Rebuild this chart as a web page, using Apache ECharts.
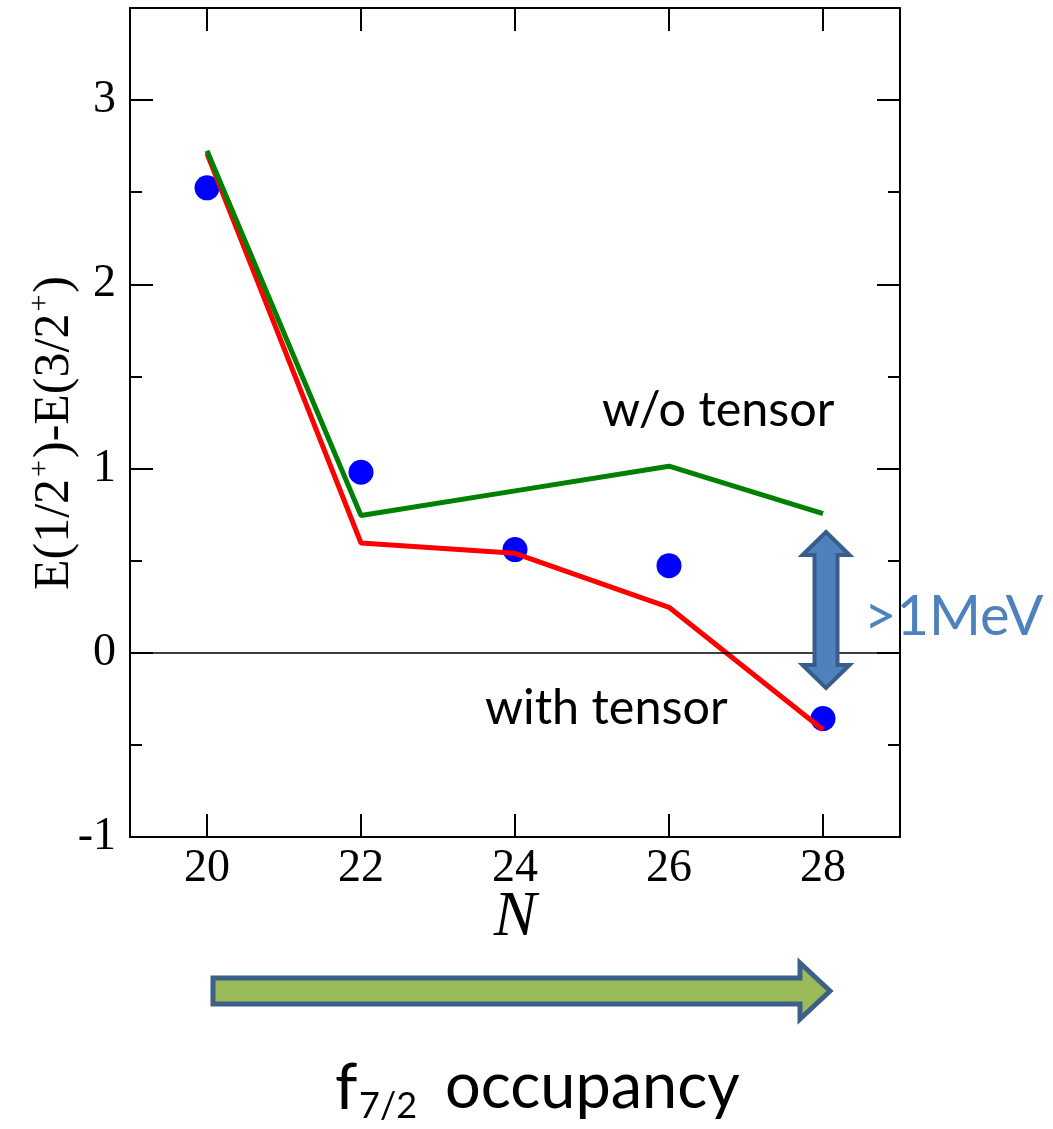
<!DOCTYPE html>
<html><head><meta charset="utf-8">
<script src="https://cdn.jsdelivr.net/npm/echarts@6/dist/echarts.min.js"></script>
<style>html,body{margin:0;padding:0;background:#fff}#c{width:1053px;height:1129px}</style>
</head><body><div id="c"></div>
<script>
const N = [20, 22, 24, 26, 28];
const expData = [2.524, 0.98, 0.56, 0.473, -0.357];
const withTensor = [2.71, 0.596, 0.54, 0.247, -0.418];
const withoutTensor = [2.725, 0.745, 0.879, 1.013, 0.755];
const xTicks = [20, 22, 24, 26, 28];
const yMajor = [-1, 0, 1, 2, 3];
const yMinor = [-0.5, 0.5, 1.5, 2.5];

const serif = 'Liberation Serif';
const chart = echarts.init(document.getElementById('c'), null, {renderer: 'canvas'});

const baseX = {min: 19, max: 29, splitLine: {show: false},
  axisLine: {show: true, onZero: false, lineStyle: {color: '#000', width: 2}}};
const baseY = {min: -1, max: 3.5, splitLine: {show: false},
  axisLine: {show: true, onZero: false, lineStyle: {color: '#000', width: 2}}};

const option = {
  animation: false,
  backgroundColor: '#fff',
  grid: {left: 130, right: 153, top: 8, bottom: 292, containLabel: false},
  xAxis: [
    Object.assign({}, baseX, {type: 'value', position: 'bottom',
      axisTick: {show: true, inside: true, length: 23, customValues: xTicks, lineStyle: {color: '#000', width: 2}},
      axisLabel: {show: true, customValues: xTicks, fontFamily: serif, fontSize: 46, color: '#000', margin: 9}}),
    Object.assign({}, baseX, {type: 'value', position: 'top',
      axisTick: {show: true, inside: true, length: 23, customValues: xTicks, lineStyle: {color: '#000', width: 2}},
      axisLabel: {show: false}})
  ],
  yAxis: [
    Object.assign({}, baseY, {type: 'value', position: 'left',
      axisTick: {show: true, inside: true, length: 23, customValues: yMajor, lineStyle: {color: '#000', width: 2}},
      axisLabel: {show: true, customValues: yMajor, fontFamily: serif, fontSize: 46, color: '#000', margin: 14}}),
    Object.assign({}, baseY, {type: 'value', position: 'left', axisLine: {show: false},
      axisTick: {show: true, inside: true, length: 12, customValues: yMinor, lineStyle: {color: '#000', width: 2}},
      axisLabel: {show: false}}),
    Object.assign({}, baseY, {type: 'value', position: 'right',
      axisTick: {show: true, inside: true, length: 23, customValues: yMajor, lineStyle: {color: '#000', width: 2}},
      axisLabel: {show: false}}),
    Object.assign({}, baseY, {type: 'value', position: 'right', axisLine: {show: false},
      axisTick: {show: true, inside: true, length: 12, customValues: yMinor, lineStyle: {color: '#000', width: 2}},
      axisLabel: {show: false}})
  ],
  series: [
    {type: 'scatter', name: 'exp', xAxisIndex: 0, yAxisIndex: 0, z: 2,
      data: N.map((n, i) => [n, expData[i]]), symbol: 'circle', symbolSize: 25,
      itemStyle: {color: '#0000FF', opacity: 1},
      markLine: {silent: true, symbol: 'none', label: {show: false},
        lineStyle: {color: '#000', width: 1.5, type: 'solid'}, data: [{yAxis: 0}]}},
    {type: 'line', name: 'with tensor', xAxisIndex: 0, yAxisIndex: 0, z: 3,
      data: N.map((n, i) => [n, withTensor[i]]), showSymbol: false, symbol: 'none',
      lineStyle: {color: '#FF0000', width: 5}},
    {type: 'line', name: 'w/o tensor', xAxisIndex: 0, yAxisIndex: 0, z: 4,
      data: N.map((n, i) => [n, withoutTensor[i]]), showSymbol: false, symbol: 'none',
      lineStyle: {color: '#008000', width: 5}}
  ],
  graphic: [
    {type: 'text', x: 55, y: 433, rotation: Math.PI / 2, z: 10,
      style: {text: 'E(1/2{s|+})-E(3/2{s|+})', fill: '#000', font: '50px "Liberation Serif"',
        align: 'center', verticalAlign: 'middle',
        rich: {s: {fontSize: 30, fontFamily: serif, verticalAlign: 'top', lineHeight: 60, padding: [0, 2, 0, 2]}}}},
    {type: 'text', x: 515, y: 918, z: 10,
      style: {text: 'N', fill: '#000', font: 'italic 64px "Liberation Serif"', align: 'center', verticalAlign: 'middle'}},
    {type: 'text', x: 602, y: 410, z: 10,
      style: {text: 'w/o tensor', fill: '#000', font: '48.5px Lato', align: 'left', verticalAlign: 'middle'}},
    {type: 'text', x: 485, y: 708, z: 10,
      style: {text: 'with tensor', fill: '#000', font: '48.5px Lato', align: 'left', verticalAlign: 'middle'}},
    {type: 'text', x: 864, y: 617, z: 10,
      style: {text: '>1MeV', fill: '#4F81BD', font: '56px Lato', align: 'left', verticalAlign: 'middle'}},
    {type: 'polygon', z: 9,
      shape: {points: [[826, 532], [849.5, 555], [837.5, 555], [837.5, 665], [849.5, 665], [826, 688],
        [802.5, 665], [814.5, 665], [814.5, 555], [802.5, 555]]},
      style: {fill: '#4F81BD', stroke: '#385D8A', lineWidth: 4, lineJoin: 'miter'}},
    {type: 'polygon', z: 9,
      shape: {points: [[213, 978], [800, 978], [800, 963], [830, 991], [800, 1019], [800, 1004], [213, 1004]]},
      style: {fill: '#9BBB59', stroke: '#3D6089', lineWidth: 5, lineJoin: 'miter'}},
    {type: 'text', x: 335, y: 1088, z: 10,
      style: {text: 'f', fill: '#000', font: '64px Lato', align: 'left', verticalAlign: 'middle'}},
    {type: 'text', x: 359, y: 1106, z: 10,
      style: {text: '7/2', fill: '#000', font: '36px Lato', align: 'left', verticalAlign: 'middle'}},
    {type: 'text', x: 445, y: 1088, z: 10,
      style: {text: 'occupancy', fill: '#000', font: '63px Lato', align: 'left', verticalAlign: 'middle'}}
  ]
};
chart.setOption(option);
</script>
</body></html>
